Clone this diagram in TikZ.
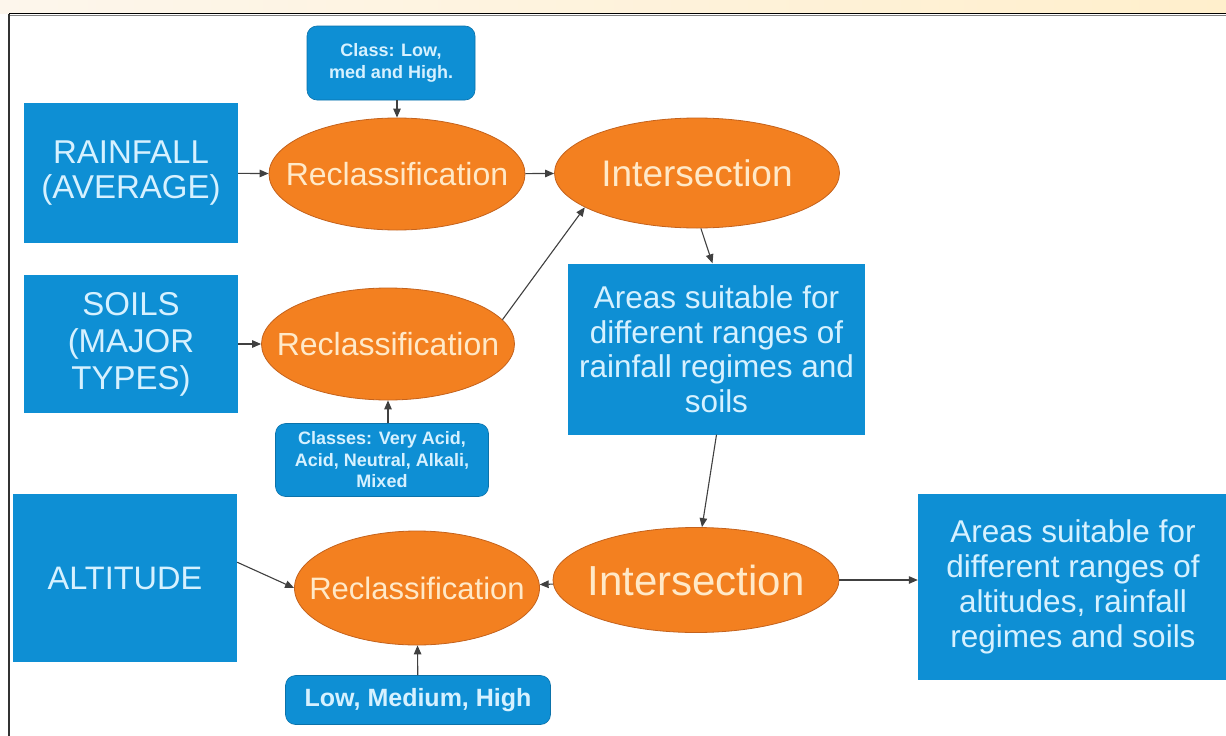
\documentclass[tikz,border=0pt]{standalone}
\usepackage{fontspec}
\setmainfont{Liberation Sans}
\usetikzlibrary{shapes.geometric,arrows.meta,calc}

\definecolor{boxblue}{RGB}{14,143,212}
\definecolor{boxtext}{RGB}{214,241,255}
\definecolor{ovalfill}{RGB}{243,128,32}
\definecolor{ovaledge}{RGB}{196,98,28}
\definecolor{ovaltext}{RGB}{255,233,200}
\definecolor{bandleft}{RGB}{253,246,236}
\definecolor{bandright}{RGB}{255,239,204}

\tikzset{
  bigbox/.style={rectangle, fill=boxblue, draw=none, text=boxtext, align=center, inner sep=0pt},
  notebox/.style={rectangle, rounded corners=10pt, fill=boxblue, draw=boxblue!80!black, line width=0.6pt,
                  text=boxtext, align=center, inner sep=0pt, font=\bfseries\fontsize{18}{21.5}\selectfont},
  oval/.style={ellipse, fill=ovalfill, draw=ovaledge, line width=0.8pt, text=ovaltext, inner sep=0pt},
  flow/.style={draw=black!75, line width=1.1pt, -{Triangle[length=9pt,width=7.5pt]}},
}
% zero-width label so the ellipse keeps its own fixed size
\newcommand{\ovallabel}[1]{\makebox[0pt]{#1}}

\begin{document}
\begin{tikzpicture}[x=1pt,y=-1pt]
  % canvas and page frame
  \useasboundingbox (0,0) rectangle (1226,736);
  \fill[white] (0,0) rectangle (1226,736);
  \shade[left color=bandleft, right color=bandright] (0,0) rectangle (1226,13);
  \draw[black!50, line width=1.2pt] (9,15.5) -- (1226,15.5);
  \draw[black, line width=1.8pt] (9,13.5) -- (1226,13.5);
  \draw[black!80, line width=1.5pt] (9,13.5) -- (9,736);

  % input layers
  \node[bigbox, minimum width=214, minimum height=140,
        font=\fontsize{33}{35}\selectfont] (rain) at (131,173) {RAINFALL\\(AVERAGE)};
  \node[bigbox, minimum width=214, minimum height=138,
        font=\fontsize{33}{37}\selectfont] (soil) at (131,344) {SOILS\\(MAJOR\\TYPES)};
  \node[bigbox, minimum width=224, minimum height=168,
        font=\fontsize{32.5}{35}\selectfont] (alt) at (125,578) {ALTITUDE};

  % class notes
  \node[notebox, minimum width=168, minimum height=74] (cls) at (391,63) {Class: Low,\\med and High.};
  \node[notebox, minimum width=213, minimum height=73] (cls2) at (382,460)
        {Classes: Very Acid,\\Acid, Neutral, Alkali,\\Mixed};
  \node[notebox, minimum width=265, minimum height=49,
        font=\bfseries\fontsize{25}{28}\selectfont] (lmh) at (418,700) {Low, Medium, High};

  % operations
  \node[oval, minimum width=256, minimum height=112,
        font=\fontsize{32}{34}\selectfont] (rc1) at (397,174) {\ovallabel{Reclassification}};
  \node[oval, minimum width=253, minimum height=112,
        font=\fontsize{32}{34}\selectfont] (rc2) at (388,344) {\ovallabel{Reclassification}};
  \node[oval, minimum width=245, minimum height=114,
        font=\fontsize{31}{34}\selectfont] (rc3) at (417,588) {\ovallabel{Reclassification}};
  \node[oval, minimum width=285, minimum height=110,
        font=\fontsize{37}{40}\selectfont] (int1) at (697,173) {\ovallabel{Intersection}};
  \node[oval, minimum width=286, minimum height=105,
        font=\fontsize{42}{45}\selectfont] (int2) at (696,580) {\ovallabel{Intersection}};

  % results
  \node[bigbox, minimum width=297, minimum height=171,
        font=\fontsize{31.5}{34.5}\selectfont] (area1) at (716.5,349)
        {Areas suitable for\\different ranges of\\rainfall regimes and\\soils};
  \node[bigbox, minimum width=310, minimum height=186,
        font=\fontsize{31.5}{35}\selectfont] (area2) at (1073,587)
        {Areas suitable for\\different ranges of\\altitudes, rainfall\\regimes and soils};

  % connectors
  \draw[flow] (rain) -- (rc1);
  \draw[flow] (rc1.north |- cls.south) -- (rc1.north);
  \draw[flow] (rc1) -- (int1);
  \draw[flow] (soil) -- (rc2);
  \draw[flow] (rc2.south |- cls2.north) -- (rc2.south);
  \draw[flow] (rc2.12) -- (int1.197);
  \draw[flow] (int1.274) -- ([xshift=-4pt]area1.north);
  \draw[flow] (area1.south) -- ([xshift=6pt]int2.north);
  \draw[flow] (int2) -- (rc3);
  \draw[flow] (alt.8) -- (rc3.west);
  \draw[flow] (lmh) -- (rc3);
  \draw[flow] (int2.east) -- (area2.west |- int2.east);
\end{tikzpicture}
\end{document}
